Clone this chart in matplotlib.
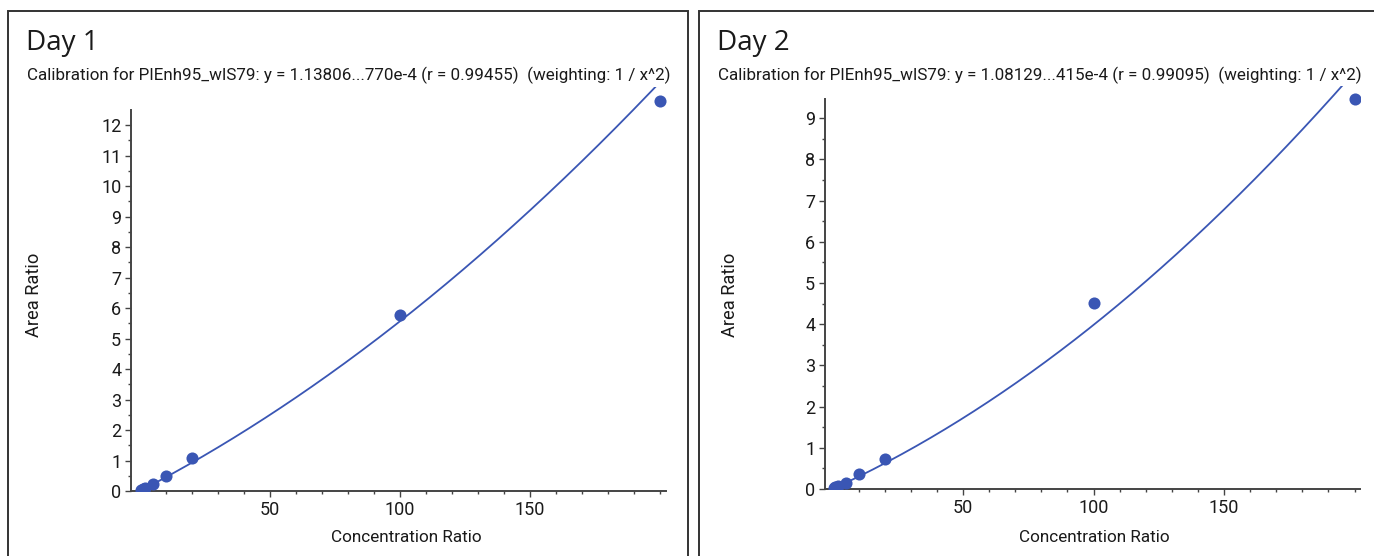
import matplotlib
matplotlib.use("Agg")
import matplotlib.pyplot as plt
import numpy as np
from matplotlib.patches import Rectangle
from matplotlib.ticker import FixedLocator

# =========================
# Data
# =========================
conc = [0.5, 1, 2, 5, 10, 20, 100, 200]
day1_area = [0.02, 0.05, 0.11, 0.22, 0.50, 1.08, 5.77, 12.8]
day2_area = [0.02, 0.04, 0.07, 0.15, 0.36, 0.72, 4.51, 9.47]

# quadratic calibration curves y = c2*x^2 + c1*x + c0
day1_coeffs = [1.13806e-4, 0.0443, 0.0]
day2_coeffs = [1.08129e-4, 0.0290, 0.0]

titles = ["Day 1", "Day 2"]
subtitles = [
    "Calibration for PIEnh95_wIS79: y = 1.13806...770e-4 (r = 0.99455)  (weighting: 1 / x^2)",
    "Calibration for PIEnh95_wIS79: y = 1.08129...415e-4 (r = 0.99095)  (weighting: 1 / x^2)",
]
x_ticks = [50, 100, 150]

W, H = 1374, 556
BLUE = "#3a56b4"
AXC = "#444444"
TXT = "#1a1a1a"
FONT = "Roboto"


def px_rect(left, top, right, bottom):
    return [left / W, 1 - bottom / H, (right - left) / W, (bottom - top) / H]


def fit_width(fig, text, size_px, vertical=False):
    # shrink/grow font so the rendered text spans size_px
    renderer = fig.canvas.get_renderer()
    ext = text.get_window_extent(renderer)
    cur = ext.height if vertical else ext.width
    text.set_fontsize(text.get_fontsize() * size_px / cur)


panels = [
    {
        "frame": (8, 11, 688, 600),
        "axes": px_rect(131, 87, 666, 491),
        "xlim": (-3.46, 202.3),
        "ylim": (0, 13.25),
        "ytop": 12.5,
        "yticks": 12,
        "area": day1_area,
        "coeffs": day1_coeffs,
        "title_x": 27,
        "sub_w": 640,
        "ylabel_x": 34,
        "xlabel_x": 406,
    },
    {
        "frame": (699, 11, 1400, 600),
        "axes": px_rect(825, 86, 1360, 489),
        "xlim": (-2.87, 202.1),
        "ylim": (0, 9.78),
        "ytop": 9.47,
        "yticks": 9,
        "area": day2_area,
        "coeffs": day2_coeffs,
        "title_x": 718,
        "sub_w": 642,
        "ylabel_x": 730,
        "xlabel_x": 1094,
    },
]

fig = plt.figure(figsize=(W / 100, H / 100), dpi=100)
fig.patch.set_facecolor("white")

for i, p in enumerate(panels):
    l, t, r, b = p["frame"]
    fig.add_artist(Rectangle((l / W, 1 - b / H), (r - l) / W, (b - t) / H,
                             transform=fig.transFigure, fill=False,
                             edgecolor="#333333", linewidth=1.4))
    fig.text(p["title_x"] / W - 0.001, 1 - 43 / H, titles[i], fontsize=20,
             family="Open Sans", color=TXT, va="center", ha="left")
    sub = fig.text(p["title_x"] / W, 1 - 75 / H, subtitles[i], fontsize=12,
                   family=FONT, color=TXT, va="center", ha="left")
    fit_width(fig, sub, p["sub_w"])
    yl = fig.text(p["ylabel_x"] / W, 1 - 295 / H, "Area Ratio", fontsize=12,
                  family=FONT, color=TXT, va="center", ha="center", rotation=90)
    fit_width(fig, yl, 84, vertical=True)
    xl = fig.text(p["xlabel_x"] / W, 1 - 537 / H, "Concentration Ratio", fontsize=11.5,
                  family=FONT, color=TXT, va="center", ha="center")
    fit_width(fig, xl, 152)

    ax = fig.add_axes(p["axes"])
    ax.set_xlim(*p["xlim"])
    ax.set_ylim(*p["ylim"])
    xs = np.linspace(0, 200, 400)
    ax.plot(xs, np.polyval(p["coeffs"], xs), color=BLUE, linewidth=1.3, zorder=2)
    ax.plot(conc, p["area"], "o", color=BLUE, markersize=8.7,
            markeredgewidth=0, zorder=3)

    for side in ("top", "right"):
        ax.spines[side].set_visible(False)
    for side in ("left", "bottom"):
        ax.spines[side].set_color(AXC)
        ax.spines[side].set_linewidth(1.4)
    ax.spines["left"].set_bounds(0, p["ytop"])
    ax.spines["bottom"].set_bounds(p["xlim"][0], p["xlim"][1])

    ax.xaxis.set_major_locator(FixedLocator(x_ticks))
    ax.xaxis.set_minor_locator(FixedLocator(list(range(10, 201, 10))))
    ax.yaxis.set_major_locator(FixedLocator(list(range(0, p["yticks"] + 1))))
    ax.yaxis.set_minor_locator(FixedLocator(list(np.arange(0.5, p["ytop"], 0.5))))
    ax.tick_params(which="major", length=4, width=1, color=AXC,
                   labelsize=13, labelcolor=TXT, pad=3)
    ax.tick_params(which="minor", length=2.5, width=1, color=AXC)
    for lab in ax.get_xticklabels() + ax.get_yticklabels():
        lab.set_family(FONT)
    ax.patch.set_alpha(0)

fig.savefig("out.png", dpi=100)
